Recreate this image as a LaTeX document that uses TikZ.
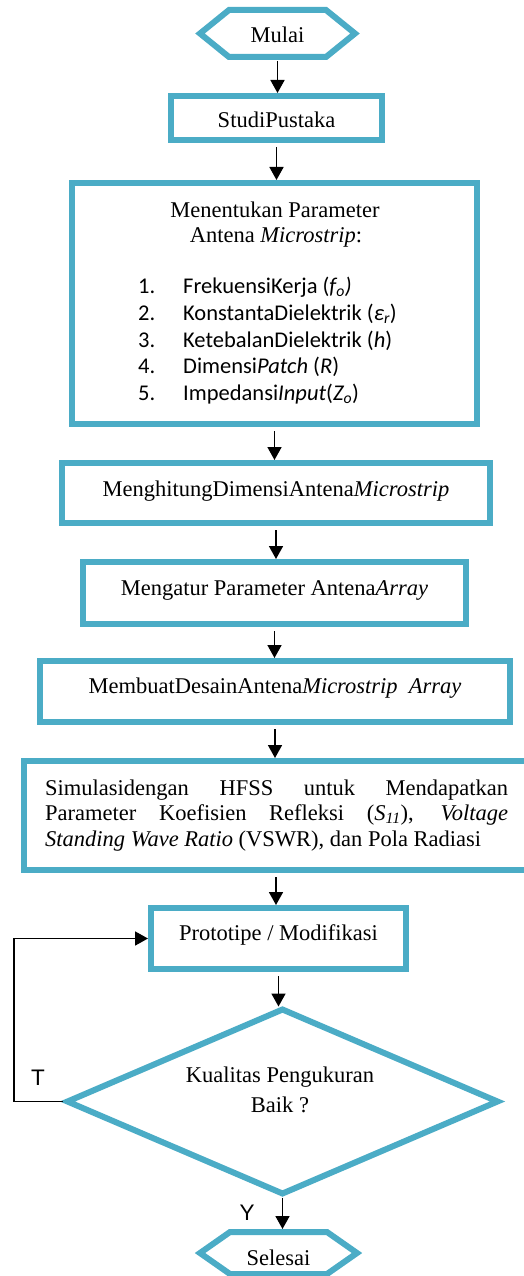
\documentclass[tikz,border=0pt]{standalone}
\usepackage{fontspec}
\setmainfont{Liberation Serif}
\newfontfamily\calib{Carlito}
\newfontfamily\arialf{Liberation Sans}
\usetikzlibrary{arrows.meta,calc,shapes.geometric}
\definecolor{flowblue}{HTML}{4BACC6}
\begin{document}
\begin{tikzpicture}[x=1pt,y=-1pt,
  every node/.style={inner sep=0pt, font=\fontsize{22.5}{27}\selectfont},
  procbox/.style={draw=flowblue, line width=6pt, rectangle, outer sep=3pt},
  hexbase/.style={rectangle, outer sep=0pt},
  hexline/.style={draw=flowblue, line width=6pt, line join=miter},
  decision/.style={shape=diamond, draw=flowblue, line width=6pt, outer sep=0pt, aspect=2.33},
  conn/.style={line width=1.7pt, -{Triangle[width=14pt,length=13pt]}},
  txt/.style={anchor=base},
  listtxt/.style={anchor=base west, font=\fontsize{22.5}{27}\selectfont\calib},
  lbl/.style={anchor=base, font=\fontsize{22.5}{27}\selectfont\arialf},
]
\useasboundingbox (0,0) rectangle (523,1276);

% Start
\node[hexbase, minimum width=155pt, minimum height=47pt, text height=21.5pt, text depth=2.5pt] (mulai) at (277.5,33.5) {Mulai};
\draw[hexline] (mulai.west) -- ([xshift=29pt]mulai.north west) -- ([xshift=-29pt]mulai.north east) -- (mulai.east) -- ([xshift=-29pt]mulai.south east) -- ([xshift=29pt]mulai.south west) -- cycle;

\node[procbox, minimum width=211pt, minimum height=44pt, text height=22pt, text depth=2pt] (studi) at (276.5,118) {StudiPustaka};

\node[procbox, minimum width=405pt, minimum height=241pt] (param) at (274.5,303.5) {};
\node[txt] (paramt1) at (275,217) {Menentukan Parameter};
\node[txt] (paramt2) at (276,242) {Antena \textit{Microstrip}:};
\node[listtxt] (n1) at (138,293) {1.};
\node[listtxt] (i1) at (183,293) {FrekuensiKerja (\textit{f\textsubscript{o})}};
\node[listtxt] (n2) at (138,320) {2.};
\node[listtxt] (i2) at (183,320) {KonstantaDielektrik (\textit{ε\textsubscript{r}})};
\node[listtxt] (n3) at (138,347) {3.};
\node[listtxt] (i3) at (183,347) {KetebalanDielektrik (\textit{h})};
\node[listtxt] (n4) at (138,373) {4.};
\node[listtxt] (i4) at (183,373) {Dimensi\textit{Patch} (\textit{R})};
\node[listtxt] (n5) at (138,400) {5.};
\node[listtxt] (i5) at (183,400) {Impedansi\textit{Input}(\textit{Z\textsubscript{o}})};

\node[procbox, minimum width=428pt, minimum height=60pt, text height=15pt, text depth=9pt] (hitung) at (276,493) {MenghitungDimensiAntena\textit{Microstrip}};
\node[procbox, minimum width=383pt, minimum height=62pt, text height=14pt, text depth=10pt] (atur) at (274.5,593) {Mengatur Parameter Antena\textit{Array}};
\node[procbox, minimum width=470pt, minimum height=61pt, text height=14pt, text depth=10pt] (desain) at (275,691.5) {MembuatDesainAntena\textit{Microstrip~ Array}};

\node[procbox, minimum width=504pt, minimum height=109pt] (sim) at (276,815.5) {};
\node[anchor=base west] (sim1) at (45,795) {\makebox[463pt][s]{Simulasidengan HFSS untuk Mendapatkan}};
\node[anchor=base west] (sim2) at (45,820) {\makebox[463pt][s]{Parameter Koefisien Refleksi (\textit{S\textsubscript{11}}), \textit{Voltage}}};
\node[anchor=base west] (sim3) at (45,846) {\textit{Standing Wave Ratio} (VSWR), dan Pola Radiasi};

\node[procbox, minimum width=255pt, minimum height=61pt, text height=13.5pt, text depth=10.5pt] (proto) at (278.5,938.5) {Prototipe / Modifikasi};

\node[decision, minimum width=430pt, minimum height=184pt] (dec) at (282.5,1101.5) {};
\node[txt] (dect1) at (280,1082) {Kualitas Pengukuran};
\node[txt] (dect2) at (280,1112) {Baik ?};

\node[hexbase, minimum width=157pt, minimum height=42pt, text height=24pt, text depth=0pt] (selesai) at (278.5,1253) {Selesai};
\draw[hexline] (selesai.west) -- ([xshift=30pt]selesai.north west) -- ([xshift=-30pt]selesai.north east) -- (selesai.east) -- ([xshift=-30pt]selesai.south east) -- ([xshift=30pt]selesai.south west) -- cycle;

\node[lbl] (tlabel) at (38,1085.5) {T};
\node[lbl] (ylabel) at (247,1220) {Y};

% helper coordinates
\coordinate (mulaibot) at ($(mulai.south)+(0,4)$);
\coordinate (dectop) at ($(dec.north)+(0,-3)$);
\coordinate (decbot) at ($(dec.south)+(0,4)$);
\coordinate (decleft) at ($(dec.west)+(-5,0)$);
\coordinate (seltop) at ($(selesai.north)+(0,-3)$);
\coordinate (loopx) at (14,0);

% connectors
\draw[conn] (mulaibot) -- (mulaibot |- studi.north);
\draw[conn] ($(studi.south)+(0,4)$) -- (studi.south |- param.north);
\draw[conn] ($(param.south)+(0,4)$) -- (param.south |- hitung.north);
\draw[conn] ($(hitung.south)+(0,4)$) -- (hitung.south |- atur.north);
\draw[conn] ($(atur.south)+(0,4)$) -- (atur.south |- desain.north);
\draw[conn] ($(desain.south)+(0,4)$) -- (desain.south |- sim.north);
\draw[conn] ($(sim.south)+(0,4)$) -- (sim.south |- proto.north);
\draw[conn] ($(proto.south)+(0,4)$) -- (proto.south |- dectop);
\draw[conn] (decbot) -- (decbot |- seltop);
\draw[conn] (decleft) -- (decleft -| loopx) |- (proto.west);
\end{tikzpicture}
\end{document}
